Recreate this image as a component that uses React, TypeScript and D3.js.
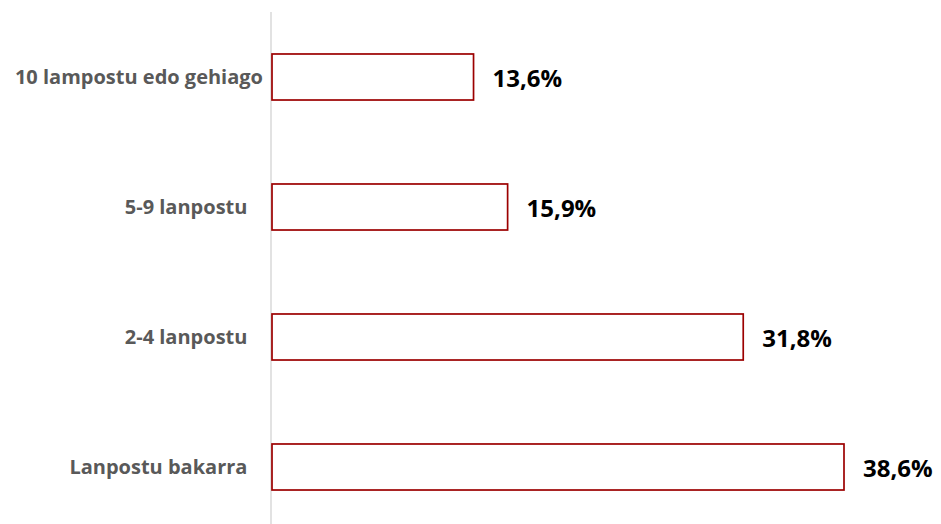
import React from "react";
import * as d3 from "d3";

const categories = [
  "10 lampostu edo gehiago",
  "5-9 lanpostu\u00a0\u00a0\u00a0",
  "2-4 lanpostu\u00a0\u00a0\u00a0",
  "Lanpostu bakarra\u00a0\u00a0\u00a0",
];
const values = [13.6, 15.9, 31.8, 38.6];
const valueLabels = ["13,6%", "15,9%", "31,8%", "38,6%"];

const W = 941;
const H = 524;
const axisX = 272;

export default function App() {
  const x = d3.scaleLinear().domain([0, 38.6]).range([axisX, 844]);
  const y = d3
    .scaleBand<string>()
    .domain(categories)
    .range([12, 532])
    .paddingInner(0.646)
    .paddingOuter(0.323);

  return (
    <svg
      width={W}
      height={H}
      style={{ position: "absolute", left: 0, top: 0, background: "#fff" }}
    >
      <line x1={axisX - 1} x2={axisX - 1} y1={12} y2={H} stroke="#D9D9D9" strokeWidth={1.5} />
      {categories.map((c, i) => {
        const by = y(c)!;
        const bh = y.bandwidth();
        const cy = by + bh / 2;
        return (
          <g key={c}>
            <rect
              x={x(0)}
              y={by}
              width={x(values[i]) - x(0)}
              height={bh}
              fill="#fff"
              stroke="#9C0000"
              strokeWidth={1.7}
            />
            <text
              x={axisX - 9}
              y={cy}
              dy="0.35em"
              textAnchor="end"
              fill="#595959"
              fontFamily="'Open Sans', sans-serif"
              fontWeight={700}
              fontSize={20}
              style={{ whiteSpace: "pre" }}
            >
              {c}
            </text>
            <text
              x={x(values[i]) + 19}
              y={cy + 2}
              dy="0.35em"
              textAnchor="start"
              fill="#000"
              fontFamily="'Open Sans', sans-serif"
              fontWeight={700}
              fontSize={24}
            >
              {valueLabels[i]}
            </text>
          </g>
        );
      })}
    </svg>
  );
}
